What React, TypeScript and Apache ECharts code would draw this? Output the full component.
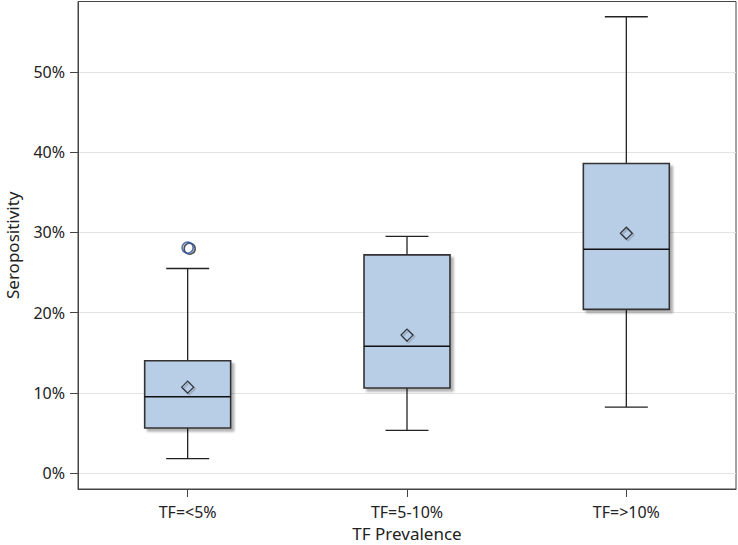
import React, { useEffect, useRef } from "react";
import * as echarts from "echarts";

const categories = ["TF=<5%", "TF=5-10%", "TF=>10%"];
const whiskerLow = [1.8, 5.3, 8.2];
const q1 = [5.6, 10.6, 20.4];
const median = [9.5, 15.8, 27.9];
const q3 = [14.0, 27.2, 38.6];
const whiskerHigh = [25.5, 29.5, 56.9];
const means = [10.7, 17.2, 29.9];
const outlierCat = [0];
const outlierVal = [28.1];
const yTicks = [0, 10, 20, 30, 40, 50];

const FONT = "Noto Sans";

export default function App() {
  const ref = useRef<HTMLDivElement>(null);
  useEffect(() => {
    if (!ref.current) return;
    const chart = echarts.init(ref.current, undefined, { renderer: "svg" });
    const boxData = categories.map((_, i) => [i, whiskerLow[i], q1[i], median[i], q3[i], whiskerHigh[i]]);
    const lineStyle = { stroke: "#222", lineWidth: 1.3 };
    chart.setOption({
      animation: false,
      backgroundColor: "#fff",
      grid: {
        left: 78,
        right: 2,
        top: 1.5,
        bottom: 56,
        show: true,
        borderColor: "#444",
        borderWidth: 1,
        backgroundColor: "transparent",
        outerBoundsMode: "none",
        containLabel: false,
      },
      xAxis: {
        type: "category",
        data: categories,
        boundaryGap: true,
        name: "TF Prevalence",
        nameLocation: "middle",
        nameGap: 36,
        nameTextStyle: { fontFamily: FONT, fontSize: 17, color: "#222" },
        axisLine: { show: true, onZero: false, lineStyle: { color: "#444", width: 1 } },
        axisTick: { show: true, alignWithLabel: true, length: 8, lineStyle: { color: "#444" } },
        axisLabel: { fontFamily: FONT, fontSize: 16, color: "#222", margin: 15 },
        splitLine: { show: false },
      },
      yAxis: {
        type: "value",
        min: -2,
        max: 58.8,
        name: "Seropositivity",
        nameLocation: "middle",
        nameGap: 57,
        nameTextStyle: { fontFamily: FONT, fontSize: 17, color: "#222" },
        axisLine: { show: true, onZero: false, lineStyle: { color: "#444", width: 1 } },
        axisTick: { show: true, length: 8, customValues: yTicks, lineStyle: { color: "#444" } },
        axisLabel: {
          fontFamily: FONT,
          fontSize: 16,
          color: "#222",
          margin: 13,
          customValues: yTicks,
          formatter: (v: number) => `${v}%`,
        },
        splitLine: { show: true, lineStyle: { color: "#e3e3e3", width: 1 } },
      },
      series: [
        {
          type: "custom",
          data: boxData,
          encode: { x: 0, y: [1, 2, 3, 4, 5] },
          z: 2,
          renderItem: (params: any, api: any) => {
            const idx = api.value(0);
            const pLow = api.coord([idx, api.value(1)]);
            const pQ1 = api.coord([idx, api.value(2)]);
            const pMed = api.coord([idx, api.value(3)]);
            const pQ3 = api.coord([idx, api.value(4)]);
            const pHigh = api.coord([idx, api.value(5)]);
            const band = api.size([1, 0])[0];
            const bw = band * 0.392;
            const cw = bw / 2;
            const x = pLow[0];
            return {
              type: "group",
              children: [
                { type: "line", shape: { x1: x, y1: pLow[1], x2: x, y2: pQ1[1] }, style: lineStyle },
                { type: "line", shape: { x1: x, y1: pQ3[1], x2: x, y2: pHigh[1] }, style: lineStyle },
                { type: "line", shape: { x1: x - cw / 2, y1: pLow[1], x2: x + cw / 2, y2: pLow[1] }, style: lineStyle },
                { type: "line", shape: { x1: x - cw / 2, y1: pHigh[1], x2: x + cw / 2, y2: pHigh[1] }, style: lineStyle },
                {
                  type: "rect",
                  shape: { x: x - bw / 2, y: pQ3[1], width: bw, height: pQ1[1] - pQ3[1] },
                  style: {
                    fill: "#b8cde6",
                    stroke: "#333",
                    lineWidth: 1.6,
                    shadowColor: "rgba(0,0,0,0.3)",
                    shadowBlur: 2,
                    shadowOffsetX: 3,
                    shadowOffsetY: 3,
                  },
                },
                { type: "line", shape: { x1: x - bw / 2, y1: pMed[1], x2: x + bw / 2, y2: pMed[1] }, style: { stroke: "#111", lineWidth: 1.4 } },
              ],
            };
          },
        },
        {
          type: "scatter",
          data: means.map((m, i) => [i, m]),
          symbol: "diamond",
          symbolSize: 12,
          z: 3,
          itemStyle: {
            color: "rgba(0,0,0,0)",
            borderColor: "#111",
            borderWidth: 1.2,
            shadowColor: "rgba(0,0,0,0.3)",
            shadowBlur: 1,
            shadowOffsetX: 1.5,
            shadowOffsetY: 1.5,
          },
        },
        {
          type: "scatter",
          data: outlierCat.map((c, i) => [c, outlierVal[i]]),
          symbol: "circle",
          symbolSize: 11,
          z: 3,
          itemStyle: {
            color: "rgba(0,0,0,0)",
            borderColor: "#2b4d9c",
            borderWidth: 1.6,
            shadowColor: "rgba(0,0,0,0.85)",
            shadowBlur: 0,
            shadowOffsetX: 2,
            shadowOffsetY: 1,
          },
        },
      ],
    });
    return () => chart.dispose();
  }, []);
  return <div ref={ref} style={{ width: 738, height: 545, position: "absolute", left: 0, top: 0 }} />;
}
